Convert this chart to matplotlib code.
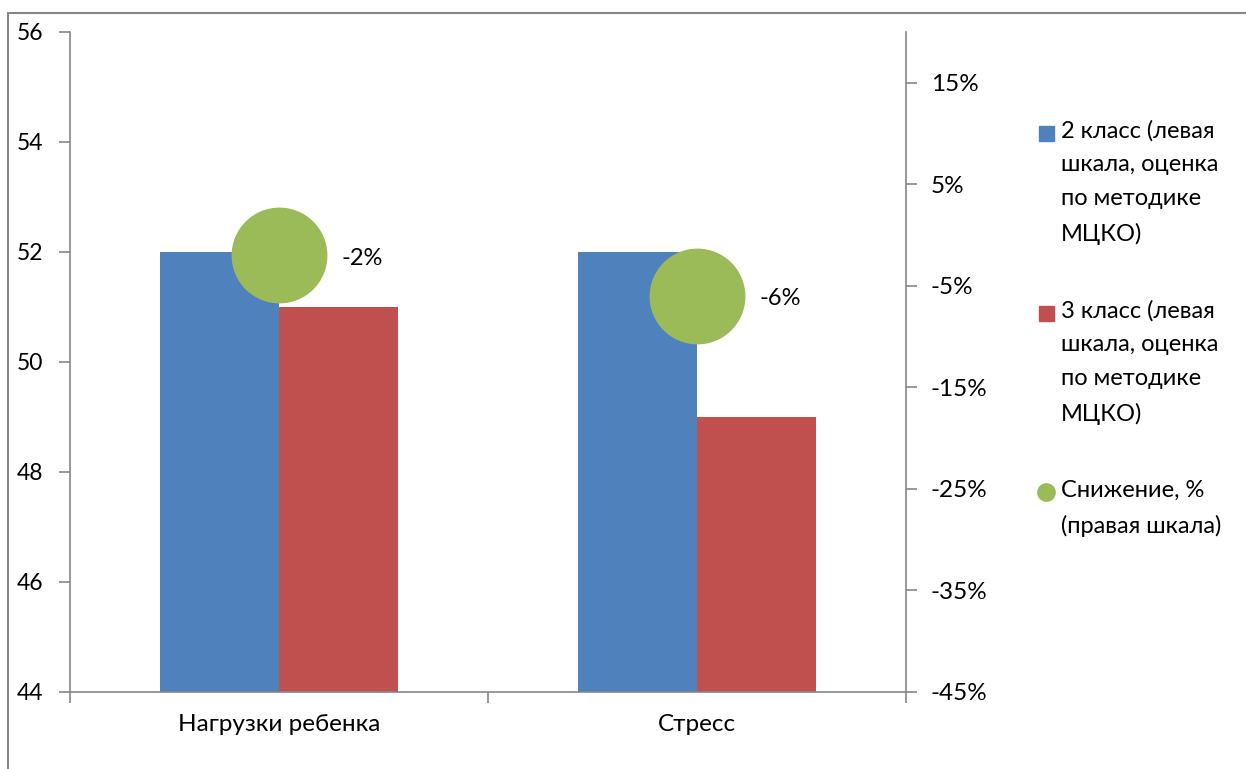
import numpy as np
import matplotlib.pyplot as plt
from matplotlib.patches import Rectangle
from matplotlib.lines import Line2D

categories = ["Нагрузки ребенка", "Стресс"]
grade2 = [52, 52]
grade3 = [51, 49]
decline = [-0.02, -0.06]
decline_labels = ["-2%", "-6%"]
left_ticks = [44, 46, 48, 50, 52, 54, 56]
right_ticks = [-0.45, -0.35, -0.25, -0.15, -0.05, 0.05, 0.15]

legend_labels = [
    "2 класс (левая\nшкала, оценка\nпо методике\nМЦКО)",
    "3 класс (левая\nшкала, оценка\nпо методике\nМЦКО)",
    "Снижение, %\n(правая шкала)",
]

BLUE = "#4F81BD"
RED = "#C0504D"
GREEN = "#9BBB59"
GRAY = "#868686"

plt.rcParams['font.family'] = ['Lato', 'DejaVu Sans']

W, H = 1246, 769
fig = plt.figure(figsize=(W / 100, H / 100), dpi=100)

# outer chart border
fig.add_artist(Rectangle((8 / W, -0.01), 1.02, (H - 13) / H + 0.01,
                         transform=fig.transFigure, fill=False,
                         edgecolor=GRAY, linewidth=1.5))

ax = fig.add_axes([70 / W, (H - 692) / H, 836 / W, 660 / H])
x = np.arange(len(categories)) + 0.5
bw = 0.285
ax.bar(x - bw / 2, grade2, width=bw, color=BLUE, zorder=2)
ax.bar(x + bw / 2, grade3, width=bw, color=RED, zorder=2)
ax.set_xlim(0, 2)
ax.set_ylim(44, 56)
ax.set_yticks(left_ticks)
ax.set_xticks([0, 1, 2])
ax.set_xticklabels([])
ax.set_xticks(x, minor=True)
ax.set_xticklabels(categories, minor=True)
ax.tick_params(axis='x', which='minor', length=0, pad=16, labelsize=17.5)
ax.tick_params(axis='x', which='major', length=8, color=GRAY, width=1.2)
ax.tick_params(axis='y', length=8, color=GRAY, width=1.2, pad=11, labelsize=16.5)
for s in ['top', 'right']:
    ax.spines[s].set_visible(False)
for s in ['left', 'bottom']:
    ax.spines[s].set_color(GRAY)
    ax.spines[s].set_linewidth(1.2)

ax2 = ax.twinx()
ax2.set_ylim(-0.45, 0.20)
ax2.set_yticks(right_ticks)
ax2.set_yticklabels([f"{round(t * 100)}%" for t in right_ticks])
ax2.tick_params(axis='y', length=8, color=GRAY, width=1.2, pad=10, labelsize=17.5)
for s in ['top', 'left', 'bottom']:
    ax2.spines[s].set_visible(False)
ax2.spines['right'].set_color(GRAY)
ax2.spines['right'].set_linewidth(1.2)
ax2.plot(x, decline, linestyle='none', marker='o', markersize=69,
         color=GREEN, markeredgewidth=0, zorder=3)
for xi, yi, lab in zip(x, decline, decline_labels):
    ax2.annotate(lab, (xi, yi), xytext=(45, -2), textcoords='offset points',
                 ha='left', va='center', fontsize=17)

# legend drawn by hand to keep the marker on the first line
fig.add_artist(Rectangle((1039 / W, 1 - 141 / H), 15 / W, 15 / H,
                         transform=fig.transFigure, color=BLUE))
fig.add_artist(Rectangle((1039 / W, 1 - 321 / H), 15 / W, 15 / H,
                         transform=fig.transFigure, color=RED))
fig.add_artist(Line2D([1046 / W], [1 - 492 / H], transform=fig.transFigure,
                      marker='o', markersize=13.5, color=GREEN,
                      markeredgewidth=0, linestyle='none'))
for ytop, lab in zip([120, 300, 480], legend_labels):
    fig.text(1061 / W, 1 - ytop / H, lab, ha='left', va='top',
             fontsize=17, linespacing=1.75)

fig.savefig("out.png", dpi=100)
